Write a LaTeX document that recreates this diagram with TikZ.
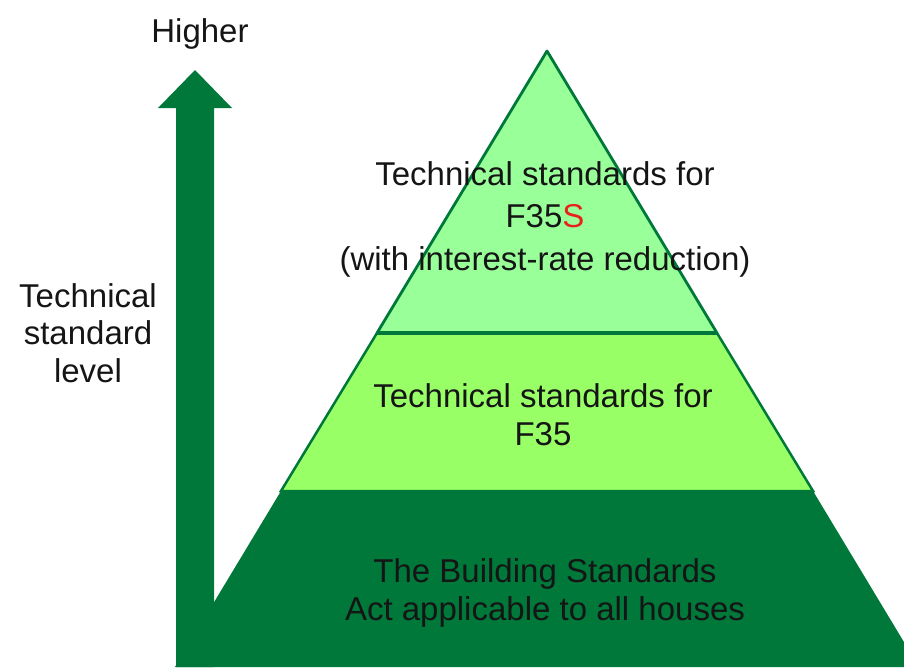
\documentclass[tikz,border=0pt]{standalone}
\usepackage{fontspec}
\setmainfont{Liberation Sans}

\definecolor{darkleaf}{HTML}{00783A}
\definecolor{paleleaf}{HTML}{99FF99}
\definecolor{limeleaf}{HTML}{99FF66}
\definecolor{flagred}{HTML}{E8221B}
\definecolor{inkgray}{HTML}{151515}

\begin{document}
\begin{tikzpicture}[x=1pt,y=-1pt]
	\useasboundingbox (0,0) rectangle (904,667);
	\clip (0,0) rectangle (904,667);

	% bottom layer
	\fill [darkleaf] (281,491) -- (813,491) -- (919,667) -- (175,667) -- cycle;
	% middle layer
	\filldraw [fill=limeleaf,draw=darkleaf,line width=2.5] (377,333) -- (717,333) -- (813,491) -- (281,491) -- cycle;
	% top layer
	\filldraw [fill=paleleaf,draw=darkleaf,line width=2.8,line join=round] (547,51) -- (717,333) -- (377,333) -- cycle;
	\draw [darkleaf,line width=4] (377,333) -- (717,333);

	% level arrow
	\fill [darkleaf] (176,667) -- (176,108) -- (158,108) -- (195,70) -- (232,108) -- (214,108) -- (214,667) -- cycle;

	\begin{scope}[every node/.style={align=center,text=inkgray,inner sep=0pt}]
		\node [anchor=base,font=\fontsize{33}{38}\selectfont] (higher) at (200,42) {Higher};
		\node [font=\fontsize{33}{37.5}\selectfont] (level) at (88,333) {Technical\\standard\\level};
		\node [font=\fontsize{33}{42.5}\selectfont] (topstd) at (545,219) {Technical standards for\\F35\textcolor{flagred}{S}\\(with interest-rate reduction)};
		\node [font=\fontsize{33}{38}\selectfont] (midstd) at (543,414.5) {Technical standards for\\F35};
		\node [font=\fontsize{33}{38}\selectfont] (basestd) at (545,592.7) {The Building Standards\\Act applicable to all houses};
	\end{scope}
\end{tikzpicture}
\end{document}
